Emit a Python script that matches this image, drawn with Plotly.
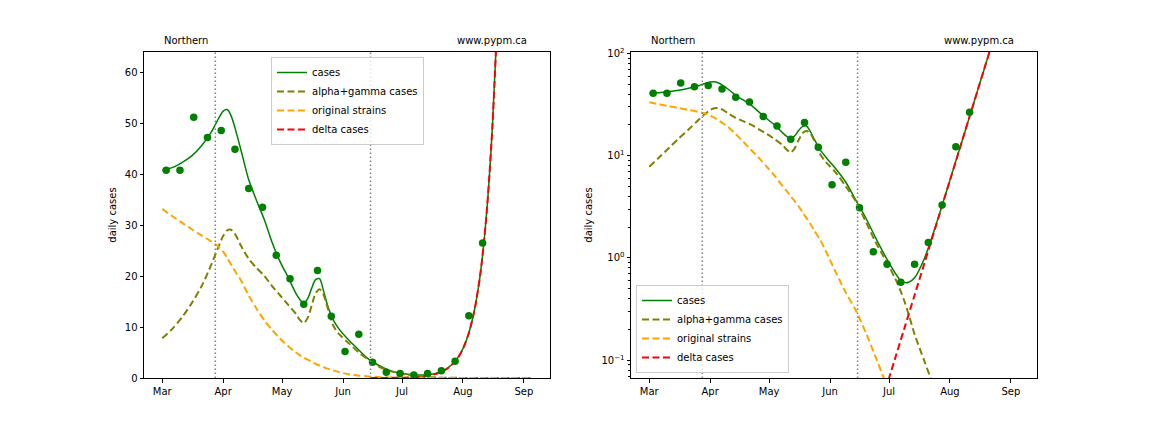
import pandas as pd
import plotly.graph_objects as go

# ---------------- data ----------------
obs_dates = ["2021-03-03", "2021-03-10", "2021-03-17", "2021-03-24", "2021-03-31",
             "2021-04-07", "2021-04-14", "2021-04-21", "2021-04-28", "2021-05-05",
             "2021-05-12", "2021-05-19", "2021-05-26", "2021-06-02", "2021-06-09",
             "2021-06-16", "2021-06-23", "2021-06-30", "2021-07-07", "2021-07-14",
             "2021-07-21", "2021-07-28", "2021-08-04", "2021-08-11"]
obs_cases = [40.8, 40.8, 51.2, 47.2, 48.6, 44.9, 37.2, 33.5, 24.1, 19.5,
             14.5, 21.1, 12.1, 5.2, 8.6, 3.1, 1.15, 0.87, 0.58, 0.87,
             1.42, 3.3, 12.2, 26.5]

model_start = "2021-03-01"
model_day = [0, 5, 10, 15, 20, 25, 28, 31, 33, 35, 37, 40, 44, 48, 52, 56, 60, 64,
             68, 70, 72, 74, 76, 78, 80, 82, 84, 87, 90, 95, 100, 105, 110, 115, 120,
             125, 128, 130, 132, 135, 140, 145, 150, 153, 156, 159, 162, 165, 168,
             171, 174, 177, 180, 184, 188]
cases = [40.8, 41.3, 42.3, 43.6, 45.6, 48.3, 50.5, 52.4, 52.7, 51.5, 49.1, 44.8,
         38.9, 34.8, 31.0, 26.5, 22.8, 19.8, 16.6, 15.4, 14.7, 15.6, 17.6, 19.3,
         19.5, 17.2, 14.4, 11.4, 9.6, 7.4, 5.5, 3.7, 2.5, 1.6, 1.05, 0.72, 0.60,
         0.575, 0.58, 0.64, 0.99, 1.87, 3.76, 5.76, 8.85, 13.6, 20.9, 32.2, 49.5,
         76.2, 117, 180, 277, 493, 877]
alpha_gamma = [7.8, 9.6, 11.9, 14.7, 18.0, 22.3, 25.2, 27.9, 29.0, 29.1, 28.3, 26.0,
               23.4, 21.6, 20.0, 18.0, 16.2, 14.4, 12.6, 11.4, 10.8, 11.8, 14.2, 16.6,
               17.4, 16.4, 14.0, 10.3, 8.6, 6.8, 5.0, 3.6, 2.3, 1.45, 0.97, 0.64, 0.47,
               0.37, 0.28, 0.18, 0.098, 0.054, 0.03, 0.021, 0.015, 0.011, 0.0078,
               0.0056, 0.004, 0.0029, 0.0021, 0.0015, 0.0011, 0.0007, 0.00045]
original = [33.2, 31.8, 30.5, 29.2, 28.0, 26.8, 26.0, 24.8, 23.6, 22.3, 21.0, 19.2,
            16.2, 13.6, 11.3, 9.4, 7.7, 6.3, 5.0, 4.5, 4.0, 3.6, 3.2, 2.8, 2.45,
            2.15, 1.85, 1.5, 1.15, 0.72, 0.46, 0.31, 0.19, 0.11, 0.062, 0.034, 0.023,
            0.018, 0.013, 0.009, 0.0045, 0.0022, 0.001, 0.0007, 0.00045, 0.0003,
            0.0002, 0.00013, 0.00009, 0.00006, 0.00004, 0.000027, 0.000018,
            0.00001, 0.000006]
delta_day = [106, 110, 115, 120, 125, 130, 135, 140, 145, 150, 153, 156, 159, 162,
             165, 168, 171, 174, 177, 180, 184, 188]
delta = [0.0067, 0.012, 0.024, 0.050, 0.103, 0.211, 0.433, 0.887, 1.82, 3.73, 5.74,
         8.83, 13.6, 20.9, 32.2, 49.5, 76.2, 117, 180, 277, 493, 877]

event_dates = ["2021-03-28", "2021-06-15"]
region_label = "Northern"
site_label = "www.pypm.ca"
y_title = "daily cases"

# ---------------- figure ----------------
base = pd.Timestamp(model_start)
model_dates = [base + pd.Timedelta(days=d) for d in model_day]
delta_dates = [base + pd.Timedelta(days=d) for d in delta_day]

FONT = "DejaVu Sans"
fig = go.Figure()

series = [
    ("cases", cases, model_dates, "green", "solid", 1.5),
    ("alpha+gamma cases", alpha_gamma, model_dates, "#808000", "7px,3.5px", 2),
    ("original strains", original, model_dates, "#FFA500", "7px,3.5px", 2),
    ("delta cases", delta, delta_dates, "#FF0000", "7px,3.5px", 2),
]

for k, (xa, ya, leg) in enumerate([("x", "y", "legend"), ("x2", "y2", "legend2")]):
    for name, vals, dts, col, dash, w in series:
        fig.add_trace(go.Scatter(
            x=dts, y=vals, mode="lines", name=name,
            line=dict(color=col, width=w, dash=dash, shape="spline", smoothing=0.8),
            xaxis=xa, yaxis=ya, legend=leg, showlegend=True))
    fig.add_trace(go.Scatter(
        x=obs_dates, y=obs_cases, mode="markers", name="data",
        marker=dict(color="green", size=7.5, line=dict(width=0)),
        xaxis=xa, yaxis=ya, showlegend=False))

xrange = ["2021-02-19 17:00", "2021-09-14 07:00"]
L = (144 / 1152, 550 / 1152)
R = (631 / 1152, 1037 / 1152)
YD = (1 - 378 / 432, 1 - 52 / 432)

xcommon = dict(type="date", range=xrange, tickformat="%b", dtick="M1",
               tick0="2021-03-01", ticks="outside", ticklen=3.5, tickwidth=0.8,
               tickcolor="black", showline=True, linecolor="black", linewidth=1,
               mirror=True, showgrid=False, zeroline=False, automargin=False,
               tickfont=dict(family=FONT, size=10, color="black"))
fig.update_layout(
    xaxis=dict(domain=L, anchor="y", **xcommon),
    xaxis2=dict(domain=R, anchor="y2", **xcommon),
    yaxis=dict(domain=YD, anchor="x", range=[0, 64], tickvals=[0, 10, 20, 30, 40, 50, 60],
               ticks="outside", ticklen=3.5, tickwidth=0.8, tickcolor="black",
               showline=True, linecolor="black", linewidth=1, mirror=True,
               showgrid=False, zeroline=False, automargin=False,
               tickfont=dict(family=FONT, size=10, color="black"),
               title=dict(text=y_title, font=dict(family=FONT, size=10, color="black"),
                          standoff=6)),
    yaxis2=dict(domain=YD, anchor="x2", type="log", range=[-1.173, 2.013],
                tickvals=[0.1, 1, 10, 100],
                ticktext=["10<sup>−1</sup>", "10<sup>0</sup>", "10<sup>1</sup>", "10<sup>2</sup>"],
                ticks="outside", ticklen=3.5, tickwidth=0.8, tickcolor="black",
                showline=True, linecolor="black", linewidth=1, mirror=True,
                showgrid=False, zeroline=False, automargin=False,
                minor=dict(ticks="outside", ticklen=2, tickwidth=0.6, tickcolor="black",
                           tickvals=[0.07, 0.08, 0.09, 0.2, 0.3, 0.4, 0.5, 0.6, 0.7, 0.8, 0.9,
                                     2, 3, 4, 5, 6, 7, 8, 9, 20, 30, 40, 50, 60, 70, 80, 90],
                           showgrid=False),
                tickfont=dict(family=FONT, size=10, color="black"),
                title=dict(text=y_title, font=dict(family=FONT, size=10, color="black"),
                           standoff=6)),
    legend=dict(x=347.5 / 1152, xanchor="center", y=1 - 57 / 432, yanchor="top",
                bgcolor="rgba(255,255,255,0.8)", bordercolor="#cccccc", borderwidth=1,
                font=dict(family=FONT, size=10, color="black"), itemwidth=30,
                tracegroupgap=0),
    legend2=dict(x=636 / 1152, xanchor="left", y=1 - 373 / 432, yanchor="bottom",
                 bgcolor="rgba(255,255,255,0.8)", bordercolor="#cccccc", borderwidth=1,
                 font=dict(family=FONT, size=10, color="black"), itemwidth=30,
                 tracegroupgap=0),
    width=1152, height=432, margin=dict(l=0, r=0, t=0, b=0, pad=0, autoexpand=False),
    paper_bgcolor="white", plot_bgcolor="white",
    font=dict(family=FONT, size=10, color="black"),
)

for xa, ya in [("x", "y"), ("x2", "y2")]:
    for ed in event_dates:
        fig.add_shape(type="line", x0=ed, x1=ed, y0=0, y1=1, xref=xa, yref=ya + " domain",
                      line=dict(color="grey", width=1.5, dash="1.5px,2.5px"), layer="above")
    fig.add_annotation(text=region_label, x="2021-03-01", y=1.012, xref=xa, yref=ya + " domain",
                       xanchor="left", yanchor="bottom", showarrow=False,
                       font=dict(family=FONT, size=10, color="black"))
    fig.add_annotation(text=site_label, x="2021-09-03 12:00", y=1.012, xref=xa,
                       yref=ya + " domain", xanchor="right", yanchor="bottom", showarrow=False,
                       font=dict(family=FONT, size=10, color="black"))

fig.write_html("out.html", config={"displayModeBar": False},
               post_script="document.body.style.margin='0px';document.body.style.padding='0px';")
